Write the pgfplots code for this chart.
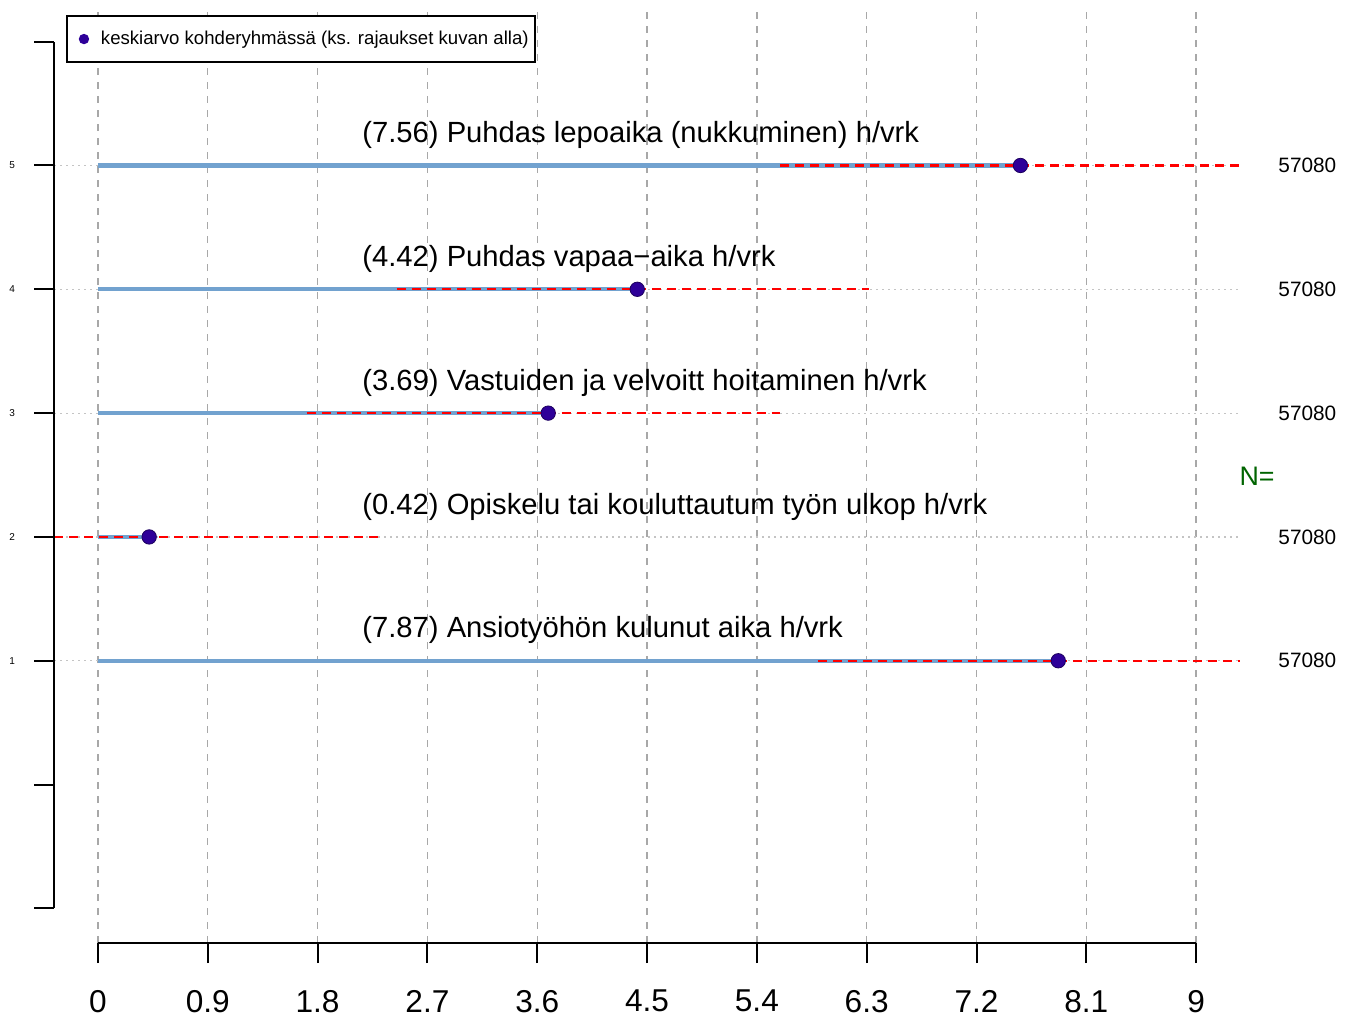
\documentclass[border=0pt]{standalone}
\usepackage{fontspec}
\setmainfont{Liberation Sans}
\usepackage{pgfplots}
\pgfplotsset{compat=1.18}
\definecolor{meanfill}{HTML}{2E0099}
\definecolor{meanedge}{HTML}{1C005E}
\definecolor{barblue}{HTML}{72A2CF}
\definecolor{gridgray}{HTML}{A8A8A8}
\definecolor{dotgray}{HTML}{C4C4C4}
\definecolor{ngreen}{HTML}{006400}

\begin{document}
\begin{tikzpicture}
\begin{axis}[
    width=593pt, height=468pt, scale only axis,
    xmin=-0.36, xmax=9.36, ymin=-1.28, ymax=6.28,
    clip=false,
    axis line style={draw=none},
    tick pos=left,
    tick align=outside,
    major tick length=10pt,
    major tick style={black, line width=1pt},
    xtick={0,0.9,1.8,2.7,3.6,4.5,5.4,6.3,7.2,8.1,9},
    xticklabels={0,0.9,1.8,2.7,3.6,4.5,5.4,6.3,7.2,8.1,9},
    ytick={-1,0,1,2,3,4,5,6},
    yticklabels={,,1,2,3,4,5,},
    xticklabel style={font=\fontsize{15.8}{19}\selectfont, yshift=-10pt},
    yticklabel style={font=\fontsize{5}{6}\selectfont, xshift=-6pt},
    /pgf/number format/assume math mode=true,
    xmajorgrids,
    grid style={gridgray, line width=0.7pt, dash pattern=on 3.5pt off 3.5pt},
    legend style={at={(axis cs:-0.262,6.215)}, anchor=north west,
        draw=black, line width=1pt, fill=white,
        inner xsep=0pt, inner ysep=7pt,
        font=\fontsize{9.3}{11}\selectfont,
        nodes={inner sep=0pt, text height=7pt, text depth=2pt}},
    legend image code/.code={
        \path[draw=none, fill=none] (-8.5pt,0pt) rectangle (8.5pt,0pt);
        \fill[meanfill, draw=none] (0pt,0pt) circle (2.6pt);},
]

% light dotted guide line for every row
\addplot[dotgray, line width=0.6pt, dash pattern=on 0.8pt off 2.2pt, unbounded coords=jump, forget plot]
    coordinates {(-0.36,1)(9.36,1) (nan,nan) (-0.36,2)(9.36,2) (nan,nan)
                 (-0.36,3)(9.36,3) (nan,nan) (-0.36,4)(9.36,4) (nan,nan)
                 (-0.36,5)(9.36,5)};

% bar from 0 to the mean
\addplot[barblue, line width=2.2pt, unbounded coords=jump, forget plot]
    coordinates {(0,1)(7.87,1) (nan,nan) (0,2)(0.42,2) (nan,nan)
                 (0,3)(3.69,3) (nan,nan) (0,4)(4.42,4) (nan,nan)
                 (0,5)(7.56,5)};

% spread around the mean (clipped at the plot edges)
\addplot[red, line width=1.1pt, dash pattern=on 4.5pt off 3pt, unbounded coords=jump, forget plot]
    coordinates {(5.90,1)(9.36,1) (nan,nan) (-0.36,2)(2.32,2) (nan,nan)
                 (1.71,3)(5.59,3) (nan,nan) (2.45,4)(6.32,4) (nan,nan)
                 (5.59,5)(9.36,5)};

% means
\addplot[only marks, mark=*, mark size=3.6pt,
    mark options={fill=meanfill, draw=meanedge, line width=0.4pt}]
    coordinates {(7.87,1)(0.42,2)(3.69,3)(4.42,4)(7.56,5)};
\addlegendentry{keskiarvo kohderyhmässä (ks. rajaukset kuvan alla)\kern3pt}

% axis lines as in the original
\draw[black, line width=1pt] (axis cs:0,-1.28) -- (axis cs:9,-1.28);
\draw[black, line width=1pt] (axis cs:-0.36,-1) -- (axis cs:-0.36,6);

% row labels
\begin{scope}[every node/.style={font=\fontsize{14.6}{17}\selectfont, anchor=base west, inner sep=0pt}]
\node at (axis cs:2.164,5.185) {(7.56) Puhdas lepoaika (nukkuminen) h/vrk};
\node at (axis cs:2.164,4.185) {(4.42) Puhdas vapaa−aika h/vrk};
\node at (axis cs:2.164,3.185) {(3.69) Vastuiden ja velvoitt hoitaminen h/vrk};
\node at (axis cs:2.164,2.185) {(0.42) Opiskelu tai kouluttautum työn ulkop h/vrk};
\node at (axis cs:2.164,1.185) {(7.87) Ansiotyöhön kulunut aika h/vrk};
\end{scope}

% group sizes
\begin{scope}[every node/.style={font=\fontsize{10.4}{12}\selectfont, anchor=west, inner sep=0pt}]
\node at (axis cs:9.671,5) {57080};
\node at (axis cs:9.671,4) {57080};
\node at (axis cs:9.671,3) {57080};
\node at (axis cs:9.671,2) {57080};
\node at (axis cs:9.671,1) {57080};
\end{scope}
\node[ngreen, font=\fontsize{13.4}{16}\selectfont, inner sep=0pt] at (axis cs:9.499,2.49) {N=};

% page size
\path (axis cs:-0.8026,-1.8858) rectangle (axis cs:10.269,6.3365);
\end{axis}
\end{tikzpicture}
\end{document}
